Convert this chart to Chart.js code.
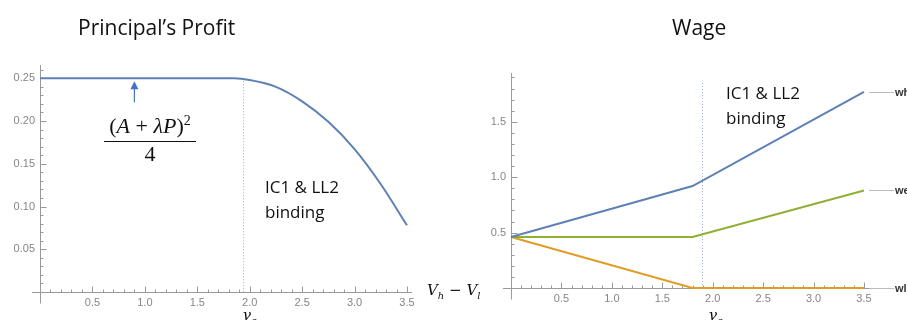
<!DOCTYPE html>
<html>
<head>
<meta charset="utf-8">
<script src="https://cdn.jsdelivr.net/npm/chart.js@4/dist/chart.umd.min.js"></script>
<style>
  html, body { margin: 0; padding: 0; background: #fff; }
  #wrap { position: relative; width: 907px; height: 320px; overflow: hidden; font-family: 'Open Sans', sans-serif; }
  .cv { position: absolute; top: 0; height: 320px; }
  .txt { position: absolute; white-space: nowrap; color: #111; }
  .title { font-size: 21px; line-height: 22px; }
  .note { font-size: 17px; line-height: 25px; }
  .math { font-family: 'DejaVu Serif', 'Liberation Serif', serif; font-style: italic; font-size: 15px; color: #111; }
  .frac { position: absolute; left: 104px; top: 108px; width: 92px; text-align: center; font-family: 'Liberation Serif', serif; font-size: 22px; color: #111; }
  .frac .num { line-height: 26px; border-bottom: 1.5px solid #111; padding-bottom: 2px; }
  .frac .den { line-height: 24px; }
  .frac i { font-style: italic; }
</style>
</head>
<body>
<div id="wrap">
  <div class="cv" style="left:0;width:453px"><canvas id="profitChart"></canvas></div>
  <div class="cv" style="left:453px;width:454px"><canvas id="wageChart"></canvas></div>

  <div class="txt title" style="left:78px;top:16px">Principal’s Profit</div>
  <div class="txt title" style="left:672px;top:16px">Wage</div>

  <div class="txt note" style="left:265px;top:174px">IC1 &amp; LL2<br>binding</div>
  <div class="txt note" style="left:726px;top:80px">IC1 &amp; LL2<br>binding</div>

  <div class="frac"><div class="num">(<i>A</i> + <i>λP</i>)<sup style="font-size:14px">2</sup></div><div class="den">4</div></div>

  <div class="txt math" style="left:427px;top:281px">V<sub style="font-size:10px">h</sub> − V<sub style="font-size:10px">l</sub></div>
  <div class="txt math" style="left:242px;top:306px">γ<sub style="font-size:10px">c</sub></div>
  <div class="txt math" style="left:708px;top:306px">γ<sub style="font-size:10px">c</sub></div>
</div>

<script>
// ─── Data ────────────────────────────────────────────────────────────────────
const xTicks = [0.5, 1.0, 1.5, 2.0, 2.5, 3.0, 3.5];

// Principal's profit
const profitX = [0, 0.5, 1.0, 1.5, 1.85, 2.0, 2.25, 2.5, 2.75, 3.0, 3.25, 3.5];
const profitY = [0.25, 0.25, 0.25, 0.25, 0.25, 0.248, 0.240, 0.223, 0.199, 0.167, 0.126, 0.078];
const profitYTicks = [0.05, 0.10, 0.15, 0.20, 0.25];
const profitGamma = 1.94;

// Wage
const wageX = [0, 1.8, 3.5];
const wh = [0.46, 0.92, 1.77];
const we = [0.46, 0.46, 0.88];
const wl = [0.46, 0, 0];
const wageNames = ['wh', 'we', 'wl'];
const wageYTicks = [0.5, 1.0, 1.5];
const wageGamma = 1.89;

const BLUE = '#5E81B5', ORANGE = '#E19C24', GREEN = '#8FB032';
const AXIS = '#9a9a9a';

const pts = (xs, ys) => xs.map((x, i) => ({ x, y: ys[i] }));

// Mathematica-style axes: lines through the origin, inward ticks with minors
const mmaAxes = {
  id: 'mmaAxes',
  beforeDatasetsDraw(chart, args, o) {
    const { ctx, scales: { x, y } } = chart;
    const x0 = Math.round(x.getPixelForValue(0)) + 0.5;
    const y0 = Math.round(y.getPixelForValue(0)) + 0.5;
    ctx.save();
    ctx.strokeStyle = AXIS;
    ctx.lineWidth = 1;
    ctx.beginPath();
    ctx.moveTo(x.left - 8, y0); ctx.lineTo(x.right + 5, y0);
    ctx.moveTo(x0, y.top); ctx.lineTo(x0, y0 + 11);
    // x ticks every 0.1, major every 0.5
    for (let k = 1; k * 0.1 <= x.max + 1e-9; k++) {
      const px = Math.round(x.getPixelForValue(k * 0.1)) + 0.5;
      const len = k % 5 === 0 ? 6 : 3;
      ctx.moveTo(px, y0); ctx.lineTo(px, y0 - len);
    }
    // y ticks
    for (let k = 1; k * o.yMinor <= y.max + 1e-9; k++) {
      const py = Math.round(y.getPixelForValue(k * o.yMinor)) + 0.5;
      const len = k % o.yEvery === 0 ? 6 : 3;
      ctx.moveTo(x0, py); ctx.lineTo(x0 + len, py);
    }
    ctx.stroke();
    // dotted gamma_c line
    ctx.strokeStyle = '#9fb2cf';
    ctx.setLineDash([1, 2]);
    ctx.beginPath();
    const gx = Math.round(x.getPixelForValue(o.gamma)) + 0.5;
    ctx.moveTo(gx, y.getPixelForValue(o.gammaTop));
    ctx.lineTo(gx, y0);
    ctx.stroke();
    ctx.restore();
  },
  afterDraw(chart, args, o) {
    const { ctx, scales: { x, y } } = chart;
    ctx.save();
    if (o.arrow) {
      const ax = x.getPixelForValue(o.arrow.x);
      const ya = y.getPixelForValue(o.arrow.from), yb = y.getPixelForValue(o.arrow.to);
      ctx.strokeStyle = ctx.fillStyle = '#4472C4';
      ctx.lineWidth = 1.2;
      ctx.beginPath(); ctx.moveTo(ax, ya); ctx.lineTo(ax, yb + 6); ctx.stroke();
      ctx.beginPath(); ctx.moveTo(ax, yb); ctx.lineTo(ax - 4, yb + 8); ctx.lineTo(ax + 4, yb + 8); ctx.closePath(); ctx.fill();
    }
    if (o.tags) {
      chart.data.datasets.forEach(ds => {
        const last = ds.data[ds.data.length - 1];
        const px = x.getPixelForValue(last.x), py = Math.round(y.getPixelForValue(last.y)) + 0.5;
        ctx.strokeStyle = '#bbbbbb'; ctx.lineWidth = 1;
        ctx.beginPath(); ctx.moveTo(px + 5, py); ctx.lineTo(px + 30, py); ctx.stroke();
        ctx.fillStyle = '#333';
        ctx.font = 'bold 11px "Liberation Sans", sans-serif';
        ctx.textBaseline = 'middle';
        ctx.fillText(ds.label, px + 31, py);
      });
    }
    ctx.restore();
  },
};

function scalesFor(yMax, yTicks, yWidth, xHeight, yFmt) {
  const tickFont = { family: '"Liberation Sans", sans-serif', size: 11 };
  return {
    x: {
      type: 'linear', min: 0, max: 3.5,
      afterBuildTicks: s => { s.ticks = xTicks.map(v => ({ value: v })); },
      afterFit: s => { s.height = xHeight; },
      grid: { display: false, drawTicks: false }, border: { display: false },
      ticks: { color: '#858585', font: tickFont, padding: 4, maxRotation: 0, callback: v => v.toFixed(1) },
    },
    y: {
      type: 'linear', min: 0, max: yMax,
      afterBuildTicks: s => { s.ticks = yTicks.map(v => ({ value: v })); },
      afterFit: s => { s.width = yWidth; },
      grid: { display: false, drawTicks: false }, border: { display: false },
      ticks: { color: '#858585', font: tickFont, padding: 5, callback: yFmt },
    },
  };
}

const lineStyle = { borderWidth: 2, pointRadius: 0, fill: false, clip: false };

new Chart(document.getElementById('profitChart'), {
  type: 'line',
  data: {
    datasets: [{ label: 'profit', data: pts(profitX, profitY), borderColor: BLUE, cubicInterpolationMode: 'monotone', ...lineStyle }],
  },
  options: {
    responsive: true, maintainAspectRatio: false, animation: false,
    layout: { padding: { top: 65, right: 46, left: 0, bottom: 0 } },
    plugins: {
      legend: { display: false }, tooltip: { enabled: false },
      mmaAxes: { yMinor: 0.01, yEvery: 5, gamma: profitGamma, gammaTop: 0.25, arrow: { x: 0.9, from: 0.222, to: 0.2465 } },
    },
    scales: scalesFor(0.2655, profitYTicks, 40, 28, v => v.toFixed(2)),
  },
  plugins: [mmaAxes],
});

new Chart(document.getElementById('wageChart'), {
  type: 'line',
  data: {
    datasets: [
      { label: wageNames[0], data: pts(wageX, wh), borderColor: BLUE, ...lineStyle },
      { label: wageNames[1], data: pts(wageX, we), borderColor: GREEN, ...lineStyle },
      { label: wageNames[2], data: pts(wageX, wl), borderColor: ORANGE, ...lineStyle },
    ],
  },
  options: {
    responsive: true, maintainAspectRatio: false, animation: false,
    layout: { padding: { top: 73, right: 43, left: 0, bottom: 0 } },
    plugins: {
      legend: { display: false }, tooltip: { enabled: false },
      mmaAxes: { yMinor: 0.1, yEvery: 5, gamma: wageGamma, gammaTop: 1.85, tags: true },
    },
    scales: scalesFor(1.94, wageYTicks, 58, 32, v => v.toFixed(1)),
  },
  plugins: [mmaAxes],
});
</script>
</body>
</html>
